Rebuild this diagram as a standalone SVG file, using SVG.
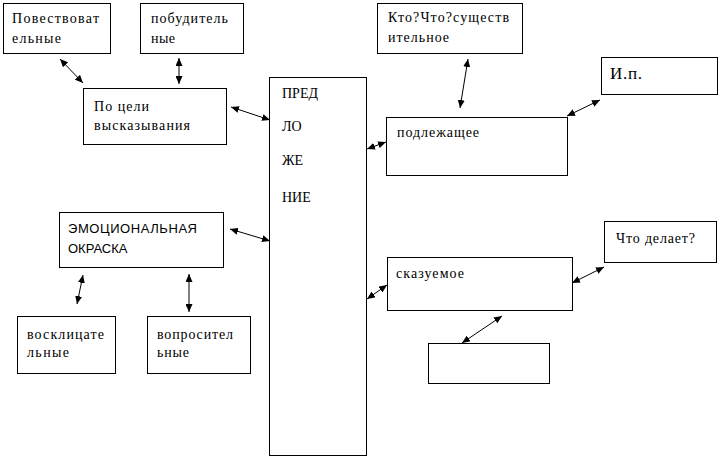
<svg xmlns="http://www.w3.org/2000/svg" width="720" height="459" viewBox="0 0 720 459">
<style>
rect.box{fill:#fff;stroke:#000;stroke-width:1}
text{font-family:'Liberation Serif','Times New Roman','DejaVu Serif',serif;font-size:14px;fill:#000}
text.sans{font-family:'Liberation Sans',Arial,sans-serif;font-size:13px}
text.big{font-size:17px}
line.c{stroke:#000;stroke-width:1;marker-start:url(#ah);marker-end:url(#ah)}
</style>
<defs>
<marker id="ah" markerUnits="userSpaceOnUse" markerWidth="9" markerHeight="7" refX="8" refY="3.5" orient="auto-start-reverse">
<path d="M0,0 L8,3.5 L0,7 z" fill="#000"/>
</marker>
</defs>
<rect width="720" height="459" fill="#fff"/>
<g id="connectors">
<line class="c" x1="60" y1="59" x2="83" y2="83"/>
<line class="c" x1="179" y1="58" x2="179" y2="84"/>
<line class="c" x1="231" y1="107" x2="270" y2="120"/>
<line class="c" x1="468" y1="59" x2="460" y2="108"/>
<line class="c" x1="367" y1="149" x2="386" y2="142"/>
<line class="c" x1="567" y1="116" x2="600" y2="100"/>
<line class="c" x1="230" y1="229" x2="270" y2="241"/>
<line class="c" x1="83" y1="275" x2="77" y2="304"/>
<line class="c" x1="189" y1="274" x2="189" y2="312"/>
<line class="c" x1="367" y1="299" x2="387" y2="285"/>
<line class="c" x1="572" y1="283" x2="604" y2="267"/>
<line class="c" x1="502" y1="316" x2="462" y2="343"/>
</g>
<g id="povestvovatelnye">
<rect class="box" x="3.5" y="3.5" width="107" height="50"/>
<text x="12" y="23" textLength="87" lengthAdjust="spacing">Повествоват</text>
<text x="12" y="43" textLength="49" lengthAdjust="spacing">ельные</text>
</g>
<g id="pobuditelnye">
<rect class="box" x="140.5" y="3.5" width="103" height="50"/>
<text x="151" y="23" textLength="77" lengthAdjust="spacing">побудитель</text>
<text x="151" y="43" textLength="24" lengthAdjust="spacing">ные</text>
</g>
<g id="po-tseli">
<rect class="box" x="83.5" y="88.5" width="143" height="56"/>
<text x="94" y="111" textLength="55" lengthAdjust="spacing">По цели</text>
<text x="94" y="130" textLength="96" lengthAdjust="spacing">высказывания</text>
</g>
<g id="predlozhenie">
<rect class="box" x="269.5" y="77.5" width="97" height="378"/>
<text x="282" y="98">ПРЕД</text>
<text x="282" y="131">ЛО</text>
<text x="282" y="165">ЖЕ</text>
<text x="282" y="202">НИЕ</text>
</g>
<g id="kto-chto">
<rect class="box" x="377.5" y="3.5" width="145" height="50"/>
<text x="388" y="22" textLength="121" lengthAdjust="spacing">Кто?Что?существ</text>
<text x="388" y="42" textLength="61" lengthAdjust="spacing">ительное</text>
</g>
<g id="podlezhashchee">
<rect class="box" x="386.5" y="117.5" width="181" height="58"/>
<text x="397" y="137" textLength="82" lengthAdjust="spacing">подлежащее</text>
</g>
<g id="ip">
<rect class="box" x="601.5" y="57.5" width="116" height="37"/>
<text class="big" x="610" y="79" textLength="32" lengthAdjust="spacing">И.п.</text>
</g>
<g id="emotsionalnaya">
<rect class="box" x="59.5" y="212.5" width="164" height="55"/>
<text class="sans" x="68" y="233" textLength="129" lengthAdjust="spacing">ЭМОЦИОНАЛЬНАЯ</text>
<text class="sans" x="68" y="253">ОКРАСКА</text>
</g>
<g id="vosklitsatelnye">
<rect class="box" x="17.5" y="316.5" width="98" height="57"/>
<text x="27" y="339" textLength="77" lengthAdjust="spacing">восклицате</text>
<text x="27" y="357" textLength="42" lengthAdjust="spacing">льные</text>
</g>
<g id="voprositelnye">
<rect class="box" x="147.5" y="316.5" width="103" height="57"/>
<text x="157" y="339" textLength="76" lengthAdjust="spacing">вопросител</text>
<text x="157" y="357" textLength="32" lengthAdjust="spacing">ьные</text>
</g>
<g id="skazuemoe">
<rect class="box" x="387.5" y="257.5" width="185" height="53"/>
<text x="396" y="278" textLength="68" lengthAdjust="spacing">сказуемое</text>
</g>
<g id="chto-delaet">
<rect class="box" x="604.5" y="221.5" width="112" height="41"/>
<text x="616" y="243" textLength="79" lengthAdjust="spacing">Что делает?</text>
</g>
<g id="empty">
<rect class="box" x="428.5" y="343.5" width="121" height="40"/>
</g>
</svg>
